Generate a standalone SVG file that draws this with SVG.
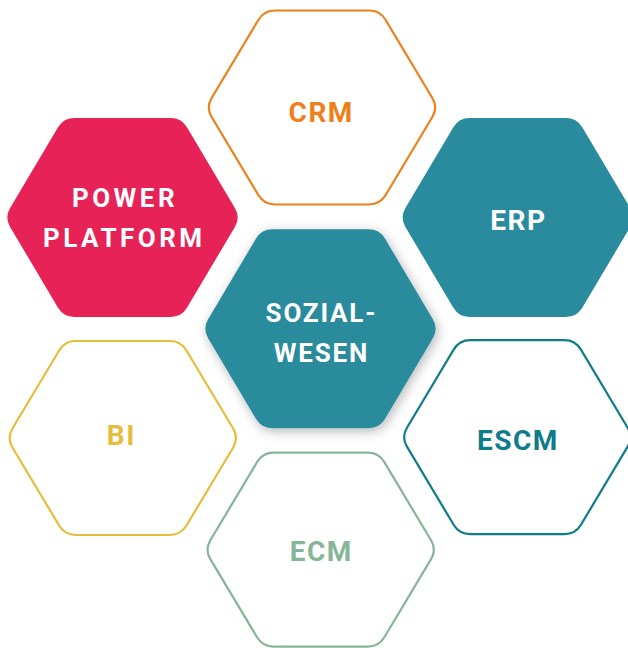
<svg xmlns="http://www.w3.org/2000/svg" width="628" height="648" viewBox="0 0 628 648">
  <defs>
    <!-- rounded flat-top hexagon, solid variant -->
    <path id="hexFill" d="M -48,-99.5 L 48,-99.5 Q 59,-99.5 64.61,-90.04 L 112.39,-9.46 Q 118,0 112.39,9.46 L 64.61,90.04 Q 59,99.5 48,99.5 L -48,99.5 Q -59,99.5 -64.61,90.04 L -112.39,9.46 Q -118,0 -112.39,-9.46 L -64.61,-90.04 Q -59,-99.5 -48,-99.5 Z"/>
    <!-- rounded flat-top hexagon, outline variant -->
    <path id="hexLine" d="M -47,-97 L 47,-97 Q 58,-97 63.65,-87.56 L 110.35,-9.44 Q 116,0 110.35,9.44 L 63.65,87.56 Q 58,97 47,97 L -47,97 Q -58,97 -63.65,87.56 L -110.35,9.44 Q -116,0 -110.35,-9.44 L -63.65,-87.56 Q -58,-97 -47,-97 Z"/>
    <filter id="softShadow" x="-20%" y="-20%" width="140%" height="140%">
      <feDropShadow dx="2" dy="3" stdDeviation="6" flood-color="#000" flood-opacity="0.28"/>
    </filter>
  </defs>
  <style>
    .label { font-family: Roboto, "Liberation Sans", Arial, sans-serif; font-weight: 700; font-size: 28px; letter-spacing: 1.5px; text-anchor: middle; }
    .light { fill: #ffffff; letter-spacing: 3.5px; font-size: 26px; }
    .tight { letter-spacing: 1.8px; }
    .outline { fill: #ffffff; stroke-width: 2.2; }
  </style>

  <rect width="628" height="648" fill="#ffffff"/>

  <g id="crm" transform="translate(322,107.5)">
    <use href="#hexLine" class="outline" stroke="#EE7F1B"/>
    <text class="label" x="-0.75" y="14.3" fill="#EE7F1B">CRM</text>
  </g>

  <g id="power-platform" transform="translate(122.5,217.5)">
    <use href="#hexFill" fill="#E62257"/>
    <text class="label light" x="2.5" y="-10.8">POWER</text>
    <text class="label light" x="1.75" y="29.2">PLATFORM</text>
  </g>

  <g id="erp" transform="translate(517.8,217.5)">
    <use href="#hexFill" fill="#298B9D"/>
    <text class="label" x="0.5" y="12.5" fill="#ffffff">ERP</text>
  </g>

  <g id="sozialwesen" transform="translate(320.5,328.8)">
    <use href="#hexFill" fill="#298B9D" filter="url(#softShadow)"/>
    <text class="label light tight" x="0.9" y="-7">SOZIAL-</text>
    <text class="label light tight" x="0.9" y="33">WESEN</text>
  </g>

  <g id="bi" transform="translate(122.8,438)">
    <use href="#hexLine" class="outline" stroke="#E5BD3C"/>
    <text class="label" x="-1.5" y="7" fill="#E5BD3C">BI</text>
  </g>

  <g id="escm" transform="translate(517.3,437.2)">
    <use href="#hexLine" class="outline" stroke="#0F7C89"/>
    <text class="label" x="0.5" y="12.8" fill="#0F7C89">ESCM</text>
  </g>

  <g id="ecm" transform="translate(320.7,549.7)">
    <use href="#hexLine" class="outline" stroke="#86B598"/>
    <text class="label" x="0.5" y="10.8" fill="#86B598">ECM</text>
  </g>

  <g id="connectors"></g>
</svg>
